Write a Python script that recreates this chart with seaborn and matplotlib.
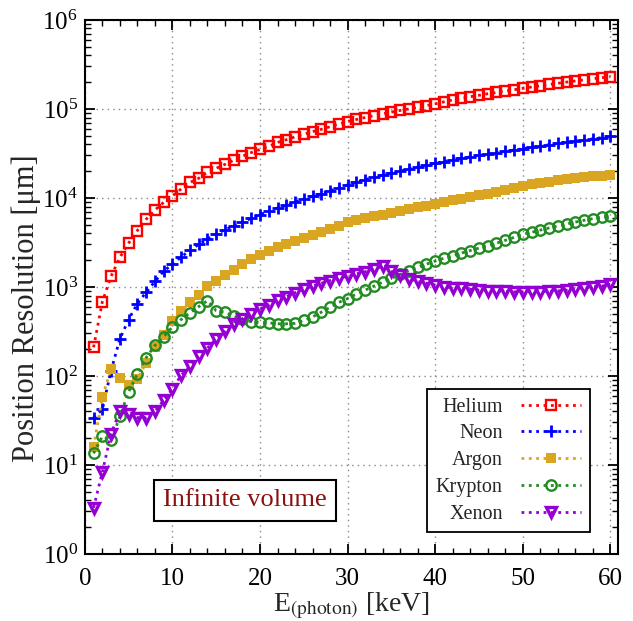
import numpy as np
import pandas as pd
import matplotlib
matplotlib.use("Agg")
import matplotlib.pyplot as plt
import matplotlib.ticker as mticker
import seaborn as sns

energy = list(range(1, 61))

helium = [210, 680, 1320, 2140, 3100, 4300, 5750, 7300, 8900, 10500,
          12600, 14900, 16600, 19400, 21500, 23800, 26500, 29500, 32300, 35000,
          38000, 42000, 45000, 48500, 52000, 55500, 59000, 63000, 67500, 72000,
          76000, 80000, 84000, 88000, 92000, 96000, 100000, 104000, 109000, 114000,
          120000, 126000, 131000, 137000, 142000, 148000, 153000, 159000, 164000, 170000,
          176000, 182000, 188000, 194000, 200000, 206000, 212000, 218000, 224000, 230000]

neon = [34, 42, 115, 260, 430, 650, 870, 1150, 1500, 1800,
        2170, 2580, 3000, 3450, 3900, 4400, 4800, 5300, 5900, 6500,
        7100, 7700, 8300, 9000, 9700, 10400, 11200, 12000, 13000, 14000,
        15000, 16000, 17000, 18000, 19000, 20000, 21000, 22200, 23300, 24500,
        25600, 26700, 27800, 28900, 30000, 31100, 32200, 33300, 34500, 35700,
        37000, 38300, 39600, 40900, 42200, 43500, 44800, 46100, 47500, 49000]

argon = [16, 58, 120, 95, 80, 93, 140, 210, 290, 410,
         530, 670, 820, 1020, 1170, 1350, 1550, 1800, 2050, 2300,
         2550, 2800, 3050, 3300, 3550, 3800, 4100, 4450, 4850, 5300,
         5600, 5900, 6200, 6500, 6800, 7100, 7450, 7800, 8150, 8600,
         9000, 9400, 9800, 10200, 10700, 11200, 11700, 12200, 12900, 13700,
         14200, 14700, 15200, 15700, 16200, 16600, 17000, 17400, 17800, 18200]

krypton = [13.5, 21, 19, 35, 66, 105, 160, 220, 275, 355,
           430, 510, 600, 700, 540, 520, 470, 435, 405, 400,
           395, 385, 385, 390, 420, 460, 520, 590, 670, 740,
           830, 920, 1020, 1130, 1250, 1380, 1520, 1660, 1800, 1950,
           2100, 2250, 2400, 2560, 2730, 2910, 3100, 3330, 3600, 3900,
           4100, 4350, 4600, 4850, 5100, 5350, 5600, 5850, 6100, 6300]

xenon = [3.3, 8.3, 22.5, 40, 37, 34, 34, 40, 53, 71,
         102, 128, 166, 206, 260, 316, 380, 440, 500, 565,
         630, 710, 780, 860, 940, 1020, 1100, 1180, 1250, 1320,
         1400, 1480, 1570, 1720, 1500, 1350, 1230, 1150, 1100, 1050,
         1000, 980, 960, 940, 920, 910, 900, 890, 880, 880,
         880, 885, 890, 900, 920, 950, 980, 1000, 1020, 1070]

gases = ["Helium", "Neon", "Argon", "Krypton", "Xenon"]
series = [helium, neon, argon, krypton, xenon]
colors = ["#ff0000", "#0000ff", "#daa520", "#228b22", "#9400d3"]

sns.set_theme(style="ticks")
plt.rcParams["font.family"] = ["Liberation Serif", "DejaVu Serif"]
plt.rcParams["mathtext.fontset"] = "stix"

fig, ax = plt.subplots(figsize=(6.33, 6.21), dpi=100)
fig.subplots_adjust(left=0.134, right=0.976, bottom=0.108, top=0.968)

marker_opts = {
    "Helium": dict(marker="s", markersize=7.5, markerfacecolor="none", markeredgewidth=1.7),
    "Neon": dict(marker="+", markersize=8.5, markeredgewidth=2.0),
    "Argon": dict(marker="s", markersize=7.5, markeredgewidth=0),
    "Krypton": dict(marker="o", markersize=7.5, markerfacecolor="none", markeredgewidth=1.7),
    "Xenon": dict(marker="v", markersize=7, markerfacecolor="none", markeredgewidth=2.4),
}

for gas, vals, col in zip(gases, series, colors):
    df = pd.DataFrame({"E": energy, "res": vals})
    opts = dict(marker_opts[gas])
    if opts.get("markerfacecolor") != "none":
        opts["markerfacecolor"] = col
    sns.lineplot(data=df, x="E", y="res", ax=ax, color=col, linestyle=":",
                 linewidth=2, markeredgecolor=col, label=gas, **opts)

ax.set_yscale("log")
ax.set_xlim(0, 60.85)
ax.set_ylim(1, 1e6)

ax.xaxis.set_major_locator(mticker.MultipleLocator(10))
ax.xaxis.set_minor_locator(mticker.MultipleLocator(2))
ax.yaxis.set_major_locator(mticker.LogLocator(base=10, numticks=10))
ax.yaxis.set_minor_locator(mticker.LogLocator(base=10, subs=np.arange(2, 10), numticks=20))
ax.yaxis.set_minor_formatter(mticker.NullFormatter())

ax.grid(True, which="major", linestyle=(0, (1, 3)), color="#888888", linewidth=1)
ax.tick_params(which="both", direction="in", top=True, right=True, labelsize=18, colors="black")
ax.tick_params(axis="x", which="major", pad=10)
ax.tick_params(axis="y", which="major", pad=5)
ax.tick_params(which="major", length=7, width=1.3)
ax.tick_params(which="minor", length=4, width=1.0)
for sp in ax.spines.values():
    sp.set_linewidth(1.5)
    sp.set_color("black")

ax.set_xlabel(r"E$_{\rm (photon)}$ [keV]", fontsize=20)
ax.set_ylabel("Position Resolution [\u03bcm]", fontsize=22)
ax.xaxis.set_label_coords(0.5, -0.068)
ax.yaxis.set_label_coords(-0.082, 0.46)

leg = ax.legend(loc="lower right", bbox_to_anchor=(0.966, 0.022), markerfirst=False,
                handlelength=3.0, handletextpad=0.9, fontsize=14.5, frameon=True, fancybox=False,
                edgecolor="black", framealpha=1, borderpad=0.42, labelspacing=0.38)
leg.get_frame().set_linewidth(1.3)

ax.text(18.3, 4.0, "Infinite volume", fontsize=19, color="#8b1010", ha="center", va="center",
        bbox=dict(boxstyle="square,pad=0.35", fc="white", ec="black", lw=1.5))

fig.savefig("out.png", dpi=100)
